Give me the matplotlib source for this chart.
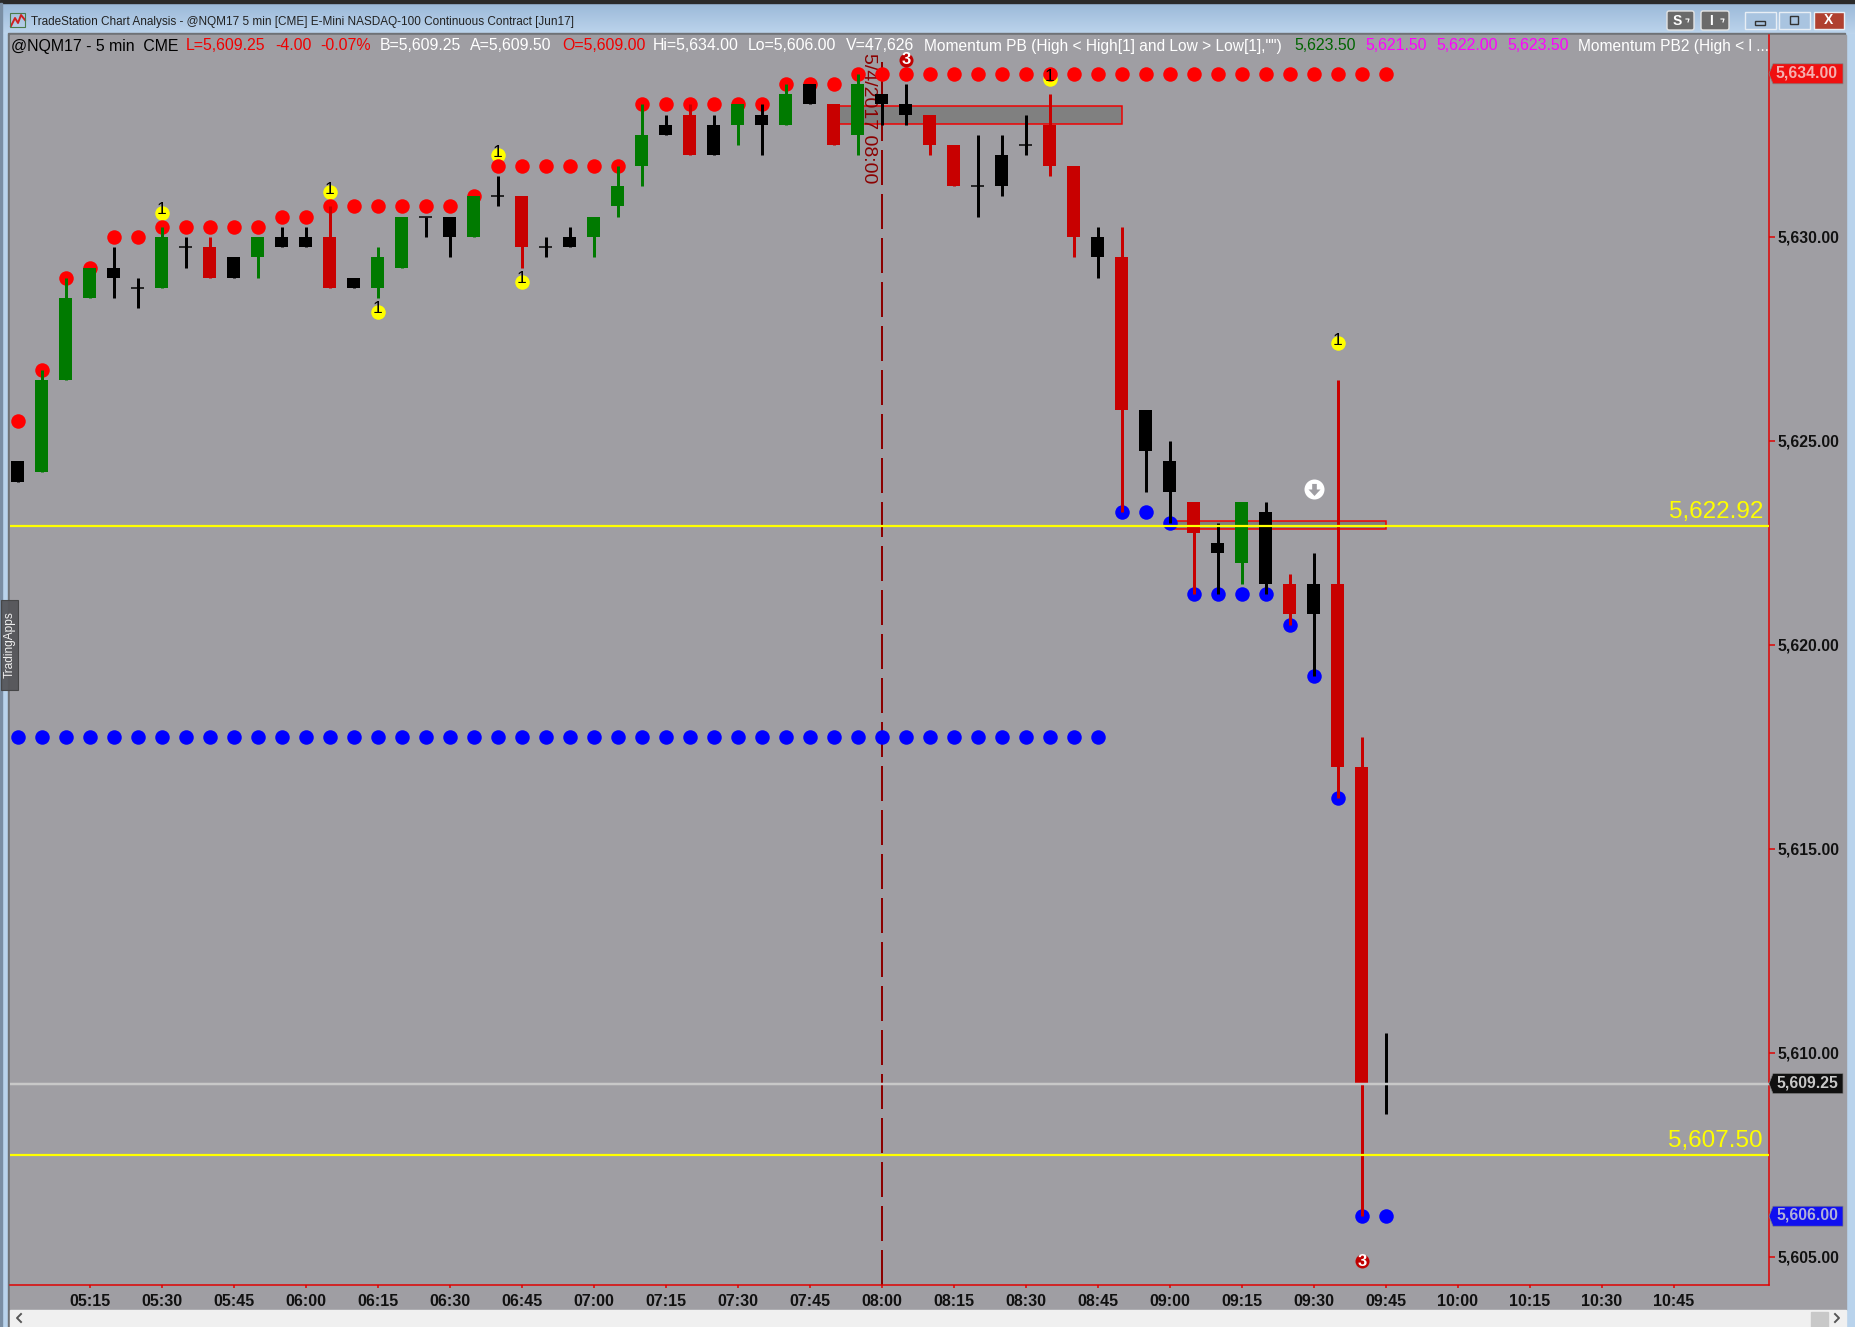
import numpy as np
import matplotlib
matplotlib.use("Agg")
import matplotlib.pyplot as plt
from matplotlib.patches import Rectangle, Polygon, FancyBboxPatch
from matplotlib.transforms import ScaledTranslation

plt.rcParams['font.family'] = ['Liberation Sans', 'DejaVu Sans']

# bar data, 5 min bars from 05:00 (body top / body bottom / high / low)
body_top = [5624.5, 5626.5, 5628.5, 5629.25, 5629.25, 5628.75, 5630, 5629.75, 5629.75, 5629.5,
            5630, 5630, 5630, 5630, 5629, 5629.5, 5630.5, 5630.5, 5630.5, 5631,
            5631, 5631, 5629.75, 5630, 5630.5, 5631.25, 5632.5, 5632.75, 5633, 5632.75,
            5633.25, 5633, 5633.5, 5633.75, 5633.25, 5633.75, 5633.5, 5633.25, 5633, 5632.25,
            5631.25, 5632, 5632.25, 5632.75, 5631.75, 5630, 5629.5, 5625.75, 5624.5, 5623.5,
            5622.5, 5623.5, 5623.25, 5621.5, 5621.5, 5621.5, 5617, 5609.25]
body_bot = [5624, 5624.25, 5626.5, 5628.5, 5629, 5628.75, 5628.75, 5629.75, 5629, 5629,
            5629.5, 5629.75, 5629.75, 5628.75, 5628.75, 5628.75, 5629.25, 5630.5, 5630, 5630,
            5631, 5629.75, 5629.75, 5629.75, 5630, 5630.75, 5631.75, 5632.5, 5632, 5632,
            5632.75, 5632.75, 5632.75, 5633.25, 5632.25, 5632.5, 5633.25, 5633, 5632.25, 5631.25,
            5631.25, 5631.25, 5632.25, 5631.75, 5630, 5629.5, 5625.75, 5624.75, 5623.75, 5622.75,
            5622.25, 5622, 5621.5, 5620.75, 5620.75, 5617, 5609.25, 5609.25]
highs = [5624.5, 5626.75, 5629, 5629.25, 5629.75, 5629, 5630.25, 5630, 5630, 5629.5,
         5630, 5630.25, 5630.25, 5630.75, 5629, 5629.75, 5630.5, 5630.5, 5630.5, 5631,
         5631.5, 5631, 5630, 5630.25, 5630.5, 5631.75, 5633.25, 5633, 5633.25, 5633,
         5633.25, 5633.25, 5633.75, 5633.75, 5633.25, 5634, 5633.5, 5633.75, 5633, 5632.25,
         5632.5, 5632.5, 5633, 5633.5, 5631.75, 5630.25, 5630.25, 5625.75, 5625, 5623.5,
         5623, 5623.5, 5623.5, 5621.75, 5622.25, 5626.5, 5617.75, 5610.5]
lows = [5624, 5624.25, 5626.5, 5628.5, 5628.5, 5628.25, 5628.75, 5629.25, 5629, 5629,
        5629, 5629.75, 5629.75, 5628.75, 5628.75, 5628.5, 5629.25, 5630, 5629.5, 5630,
        5630.75, 5629.25, 5629.5, 5629.75, 5629.5, 5630.5, 5631.25, 5632.5, 5632, 5632,
        5632.25, 5632, 5632.75, 5633.25, 5632.25, 5632, 5632.75, 5632.75, 5632, 5631.25,
        5630.5, 5631, 5632, 5631.5, 5629.5, 5629, 5623.25, 5623.75, 5623, 5621.25,
        5621.25, 5621.5, 5621.25, 5620.5, 5619.25, 5616.25, 5606, 5608.5]
bar_kind = "kgggkkgkrkgkkrkggkkg" + "krkkgggkrkgkgkrgkkrr" + "kkkrrkrkkrkgkrkrrk"

# red dots above the bars
red_dots = [5625.5, 5626.75, 5629, 5629.25, 5630, 5630] + [5630.25] * 5 + [5630.5] * 2 + \
           [5630.75] * 6 + [5631] + [5631.75] * 6 + [5633.25] * 6 + [5633.75] * 3 + [5634] * 23
# blue dots below the bars
blue_dots = [5617.75] * 46 + [5623.25, 5623.25, 5623, 5621.25, 5621.25, 5621.25, 5621.25,
                              5620.5, 5619.25, 5616.25, 5606, 5606]

one_bars = [6, 13, 15, 20, 21, 43, 55]
one_prices = [5630.6, 5631.1, 5628.17, 5632, 5628.9, 5633.87, 5627.4]
three_bars = [37, 56]
three_prices = [5634.34, 5604.9]
arrow_bar = 54
arrow_price = 5623.82

zone_bars = [(34, 46), (48, 57)]
zone_prices = [(5632.77, 5633.2), (5622.85, 5623.05)]

yellow_levels = [5622.92, 5607.50]
last_price = 5609.25
marker_bar = 36

y_ticks = [5605, 5610, 5615, 5620, 5625, 5630]
x_tick_labels = ["05:15", "05:30", "05:45", "06:00", "06:15", "06:30", "06:45", "07:00", "07:15",
                 "07:30", "07:45", "08:00", "08:15", "08:30", "08:45", "09:00", "09:15", "09:30",
                 "09:45", "10:00", "10:15", "10:30", "10:45"]

header_labels = ["@NQM17 - 5 min  CME", "L=5,609.25", "-4.00", "-0.07%", "B=5,609.25", "A=5,609.50",
                 "O=5,609.00", "Hi=5,634.00", "Lo=5,606.00", "V=47,626",
                 'Momentum PB (High < High[1] and Low > Low[1],"")', "5,623.50", "5,621.50",
                 "5,622.00", "5,623.50", "Momentum PB2 (High < l ..."]
header_colors = ["black", "#f00000", "#f00000", "#f00000", "white", "white", "#f00000", "white", "white",
                 "white", "white", "#006400", "#ff00ff", "#ff00ff", "#ff00ff", "white"]
header_x = [11, 186, 275, 320, 380, 470, 562, 653, 748, 846, 924, 1294, 1365, 1436, 1507, 1578]

tags = [(5634.00, "5,634.00", "#f01010", "#f4b0b0"),
        (5609.25, "5,609.25", "#101010", "#c8c8c8"),
        (5606.00, "5,606.00", "#1010f0", "#b0b0d8")]

# pixel layout of the screenshot
W, H = 1855, 1327
bg = "#9f9ea3"
bar_colors = {"g": "#007a00", "r": "#c80000", "k": "black"}
px_per_pt = 40.8
x0_px = 17.8
def y_px(p):
    return 1053 - (p - 5610) * px_per_pt
def px(n):  # pixels to points
    return n * 0.72

fig = plt.figure(figsize=(W / 100, H / 100), dpi=100, facecolor="#b9d3ec")

# window frame
frame = fig.add_axes([0, 0, 1, 1], zorder=0)
frame.set_xlim(0, W)
frame.set_ylim(H, 0)
frame.axis('off')
grad = np.linspace(0, 1, 32).reshape(-1, 1)
frame.imshow(grad, extent=(0, W, 34, 2), cmap=matplotlib.colors.LinearSegmentedColormap.from_list(
    "tb", ["#9ab8d8", "#bcd4ec"]), aspect='auto', zorder=1)
frame.set_xlim(0, W)
frame.set_ylim(H, 0)
frame.add_patch(Rectangle((0, 0), W, 3, color="#2a2a2a", zorder=2))
frame.add_patch(Rectangle((8, 33), W - 18, 2, color="#6f7276", zorder=2))
frame.add_patch(Rectangle((0, 3), 2, H, color="#7a8ea4", zorder=2))
frame.add_patch(Rectangle((8, 35), 2, H, color="#6f7276", zorder=2))
frame.add_patch(Rectangle((10, 35), 1836, 1275, color=bg, zorder=2))
frame.add_patch(Rectangle((10, 1310), 1836, 17, color="#f0f0f0", zorder=2))
frame.add_patch(Rectangle((1811, 1312), 17, 15, color="#c8c8c8", zorder=3))
frame.plot([21, 17, 21], [1314, 1318, 1322], color="#555555", lw=1.4, zorder=3)
frame.plot([1835, 1839, 1835], [1314, 1318, 1322], color="#555555", lw=1.4, zorder=3)

# title bar
frame.plot([11, 15, 18, 21, 25], [26, 18, 23, 15, 20], color="#d02020", lw=1.4, zorder=3)
frame.add_patch(Rectangle((10, 13), 15, 14, fill=False, ec="#4a7a4a", lw=0.8, zorder=3))
frame.text(31, 22, "TradeStation Chart Analysis - @NQM17 5 min [CME] E-Mini NASDAQ-100 Continuous Contract [Jun17]",
           fontsize=8.5, color="#222222", va='center', zorder=3)
for x0, x1, lab in [(1667, 1694, "S"), (1701, 1729, "I")]:
    frame.add_patch(FancyBboxPatch((x0 + 1, 12), x1 - x0 - 2, 17, boxstyle="round,pad=1,rounding_size=2",
                                   fc="#6a6a6a", ec="#e4e4e4", lw=1, zorder=3))
    frame.text(x0 + 10, 21, lab, color="white", fontsize=10, fontweight='bold', ha='center', va='center', zorder=4)
    frame.plot([x1 - 8, x1 - 5, x1 - 6], [19, 19, 22], color="white", lw=0.8, zorder=4)
for x0, x1, c in [(1745, 1776, "#a9c4e0"), (1779, 1810, "#a9c4e0"), (1814, 1844, "#b04030")]:
    frame.add_patch(Rectangle((x0, 12), x1 - x0, 17, fc=c, ec="#e8eef5", lw=1, zorder=3))
frame.add_patch(Rectangle((1755, 21), 10, 4, fc="none", ec="#333333", lw=1, zorder=4))
frame.add_patch(Rectangle((1790, 16), 8, 8, fc="none", ec="#333333", lw=1, zorder=4))
frame.text(1829, 20.5, "X", color="white", fontsize=10, fontweight='bold', ha='center', va='center', zorder=4)

# price chart
left, right, top, bottom = 10, 1769, 35, 1285
ax = fig.add_axes([left / W, 1 - bottom / H, (right - left) / W, (bottom - top) / H], zorder=2)
ax.set_facecolor(bg)
ax.set_xlim((left - x0_px) / 24, (right - x0_px) / 24)
ax.set_ylim(5610 + (1053 - bottom) / px_per_pt, 5610 + (1053 - top) / px_per_pt)
for s in ['top', 'left']:
    ax.spines[s].set_visible(False)
for s in ['right', 'bottom']:
    ax.spines[s].set_color("#e00000")
    ax.spines[s].set_linewidth(px(1.5))

ax.yaxis.tick_right()
ax.set_yticks(y_ticks)
ax.set_yticklabels([f"{v:,.2f}" for v in y_ticks], fontsize=11.3, fontweight='bold', color="#111111")
ax.set_xticks(3 + 3 * np.arange(len(x_tick_labels)))
ax.set_xticklabels(x_tick_labels, fontsize=11.5, fontweight='bold', color="#111111")
ax.tick_params(axis='y', color="#e00000", length=px(6), width=px(1.5), pad=px(3))
ax.tick_params(axis='x', color="#e00000", length=px(3), width=px(1.5), pad=px(6))
for lab in ax.get_yticklabels():
    lab.set_transform(lab.get_transform() + ScaledTranslation(-1 / 100, 0.5 / 100, fig.dpi_scale_trans))

k = np.arange(len(body_top))
colors = [bar_colors[c] for c in bar_kind]
top_arr, bot_arr = np.array(body_top), np.array(body_bot)

for (b0, b1), (p0, p1) in zip(zone_bars, zone_prices):
    ax.add_patch(Rectangle((b0, p0), b1 - b0, p1 - p0, fc="#808080", ec="#f00000", lw=px(1.5), zorder=1))

ax.plot([marker_bar, marker_bar], [ax.get_ylim()[0], 5634.5], color="#8b0000", lw=px(2),
        dashes=(35 / 2, 9 / 2), zorder=1.2)
ax.annotate("5/4/2017 08:00", xy=(marker_bar, 5634.5), xytext=(-13, 0), textcoords='offset pixels',
            rotation=-90, color="#8b0000", fontsize=14, ha='center', va='top', zorder=1.3)

ax.scatter(one_bars, one_prices, s=px(14.5) ** 2, color="#ffff00", linewidths=0, zorder=1.5)
ax.scatter(k, red_dots, s=px(14.5) ** 2, color="#ff0000", linewidths=0, zorder=2)
ax.scatter(k, blue_dots, s=px(14.5) ** 2, color="#0000ff", linewidths=0, zorder=2)

ax.vlines(k, lows, highs, colors=colors, lw=px(3), zorder=3)
ax.bar(k, top_arr - bot_arr, width=13 / 24, bottom=bot_arr, color=colors, linewidth=0, zorder=3)
doji = top_arr == bot_arr
ax.hlines(top_arr[doji], k[doji] - 0.27, k[doji] + 0.27, color="black", lw=px(1.5), zorder=3)

for level in yellow_levels:
    ax.axhline(level, color="#ffff00", lw=px(2.2), zorder=4)
    ax.annotate(f"{level:,.2f}", xy=(1, level), xycoords=ax.get_yaxis_transform(), xytext=(-6, 8),
                textcoords='offset pixels', ha='right', va='baseline', fontsize=17.5, color="#ffff00", zorder=5)
ax.axhline(last_price, color="#c8c8c8", lw=px(2.5), zorder=4)

for b, p in zip(one_bars, one_prices):
    ax.annotate("1", xy=(b, p), xytext=(0, 3), textcoords='offset pixels', ha='center', va='center',
                fontsize=12.5, color="black", fontweight='light', zorder=6)
ax.scatter(three_bars, three_prices, s=px(14) ** 2, color="#c00000", linewidths=0, zorder=5)
for b, p in zip(three_bars, three_prices):
    ax.text(b, p, "3", ha='center', va='center', fontsize=12, fontweight='bold', color="white", zorder=6)

ax.scatter([arrow_bar], [arrow_price], s=px(20) ** 2, color="white", linewidths=0, zorder=5)
arrow = [(-0.25, 0.6), (0.25, 0.6), (0.25, 0), (0.65, 0), (0, -0.7), (-0.65, 0), (-0.25, 0)]
ax.scatter([arrow_bar], [arrow_price], s=px(13) ** 2, marker=arrow, color=bg, linewidths=0, zorder=6)

# overlay for header row, price tags and the tab
over = fig.add_axes([0, 0, 1, 1], zorder=3)
over.set_xlim(0, W)
over.set_ylim(H, 0)
over.axis('off')
for lab, col, x in zip(header_labels, header_colors, header_x):
    size = 11.2 if lab.startswith("Momentum") else 11.4
    over.text(x, 46, lab, color=col, fontsize=size, va='center')
for price, lab, c, tc in tags:
    y = y_px(price)
    over.add_patch(Polygon([(1769, y), (1773, y - 10), (1843, y - 10), (1843, y + 10), (1773, y + 10)],
                           closed=True, fc=c, ec="#808080", lw=0.5))
    over.text(1807, y - 1, lab, color=tc, fontsize=11.3, fontweight='bold', ha='center', va='center')
over.add_patch(Rectangle((1, 600), 16.5, 90, fc="#55565a", ec="#444444", lw=0.8, alpha=0.95))
over.text(10, 645, "TradingApps", color="#f0f0f0", fontsize=8.6, rotation=90, ha='center', va='center')

plt.savefig("out.png", dpi=100, facecolor=fig.get_facecolor())
